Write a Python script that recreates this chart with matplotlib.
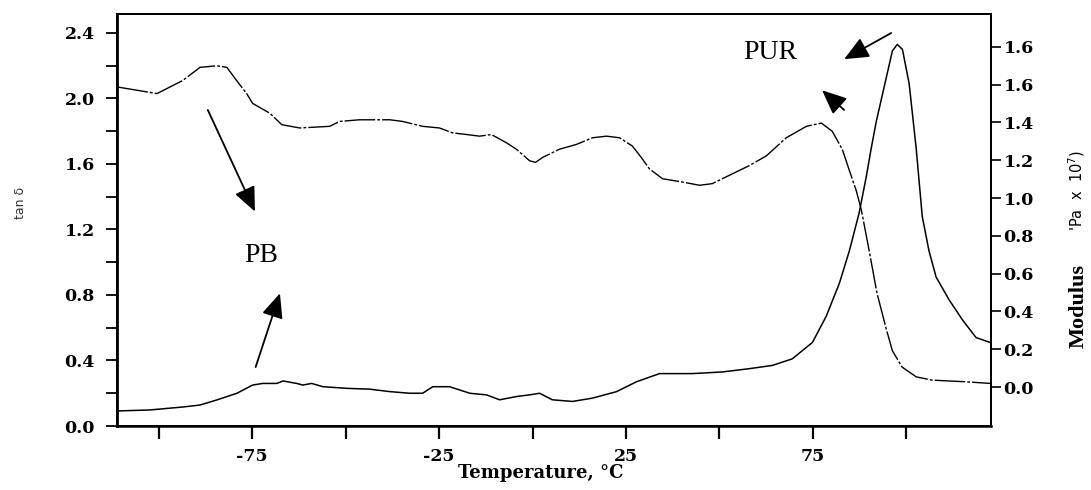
import matplotlib
matplotlib.use('Agg')
import matplotlib.pyplot as plt
import numpy as np

# storage modulus trace (dash-dot), plotted on the tan delta scale
mod_T = [-111, -100.5, -93.6, -89, -84.5, -81.8, -79.2, -76.5, -74.9, -70.3, -67.1, -62.3,
         -54.3, -51.6, -46.3, -38.2, -34.8, -29.4, -24.9, -21.4, -17.6, -14.2, -11, -7,
         -4.3, -0.8, 0.8, 2.7, 7.2, 11.8, 16, 19.8, 23.3, 26.7, 29.1, 31.3, 34.8, 40.1,
         44.7, 48.1, 53.5, 58, 62.6, 67.9, 73.3, 77.3, 80.2, 82.9, 84.8, 86.6, 88, 90.1,
         92.2, 94.7, 96.3, 98.9, 102.7, 107, 116, 122.5]
mod_y = [2.07, 2.03, 2.11, 2.19, 2.20, 2.19, 2.11, 2.03, 1.97, 1.91, 1.84, 1.82,
         1.83, 1.86, 1.87, 1.87, 1.86, 1.83, 1.82, 1.79, 1.78, 1.77, 1.78, 1.73,
         1.69, 1.62, 1.61, 1.64, 1.69, 1.72, 1.76, 1.77, 1.76, 1.71, 1.64, 1.57, 1.51, 1.49,
         1.47, 1.48, 1.54, 1.59, 1.65, 1.76, 1.83, 1.85, 1.80, 1.69, 1.56, 1.44, 1.32, 1.07,
         0.81, 0.59, 0.46, 0.36, 0.30, 0.28, 0.27, 0.26]

# tan delta trace (solid)
tan_T = [-111, -102.4, -93.6, -89, -84.5, -79.1, -74.9, -72.2, -68.4, -66.8, -63.1, -61.5,
         -59.1, -56.1, -49.7, -43.6, -38.2, -32.9, -29.4, -26.7, -22.2, -16.8, -12.3, -8.8,
         -4.3, -0.8, 1.9, 5.3, 10.7, 16, 22.5, 27.8, 34, 42.8, 50.8, 58, 64.2, 69.5, 74.9,
         78.6, 82.1, 84.8, 87.4, 89.3, 90.6, 92, 94.7, 96.3, 97.6, 99, 100.8, 102.7, 104.3,
         106.1, 108, 111.5, 115, 118.7, 122.5]
tan_y = [0.092, 0.098, 0.116, 0.128, 0.159, 0.20, 0.25, 0.26, 0.26, 0.275, 0.26, 0.25,
         0.26, 0.24, 0.23, 0.225, 0.21, 0.20, 0.20, 0.24, 0.24, 0.20, 0.19, 0.16,
         0.18, 0.19, 0.20, 0.16, 0.15, 0.17, 0.21, 0.27, 0.32, 0.32, 0.33, 0.35, 0.37, 0.41, 0.51,
         0.67, 0.87, 1.07, 1.30, 1.52, 1.69, 1.86, 2.13, 2.29, 2.33, 2.30, 2.09, 1.69, 1.28,
         1.07, 0.91, 0.77, 0.65, 0.54, 0.51]

x_ticks = [-100, -75, -50, -25, 0, 25, 50, 75, 100]
x_labels = ['', '-75', '', '-25', '', '25', '', '75', '']
left_ticks = [0.0, 0.4, 0.8, 1.2, 1.6, 2.0, 2.4]
left_minor = [0.2, 0.6, 1.0, 1.4, 1.8, 2.2]
right_ticks = [0.0, 0.2, 0.4, 0.6, 0.8, 1.0, 1.2, 1.4, 1.6, 1.8]
right_labels = ['0.0', '0.2', '0.4', '0.6', '0.8', '1.0', '1.2', '1.4', '1.6', '1.6']

tickfont = dict(family='DejaVu Serif', weight='bold', size=12.5)

fig = plt.figure(figsize=(10.91, 4.90), dpi=100)
ax = fig.add_axes([117/1091, 1-426/490, (991-117)/1091, (426-14)/490])

ax.plot(mod_T, mod_y, color='k', lw=1.0, linestyle=(0, (22, 1.5, 2, 1.5)))
ax.plot(tan_T, tan_y, color='k', lw=1.1)

ax.set_xlim(-111.2, 122.7)
ax.set_ylim(0, 2.516)

ax.set_xticks(x_ticks)
ax.set_xticklabels(x_labels, fontdict=tickfont)
ax.set_yticks(left_ticks)
ax.set_yticklabels(['%.1f' % v for v in left_ticks], fontdict=tickfont)
ax.set_yticks(left_minor, minor=True)
ax.tick_params(axis='x', direction='out', length=9, width=1.6, pad=7)
ax.tick_params(axis='y', which='both', direction='out', length=8, width=1.3, pad=8)

ax2 = ax.twinx()
ax2.set_ylim(-0.206, 1.974)
ax2.set_yticks(right_ticks)
ax2.set_yticklabels(right_labels, fontdict=tickfont)
ax2.tick_params(axis='y', direction='out', length=7, width=1.2, pad=2)

for a in (ax, ax2):
    for s in a.spines.values():
        s.set_linewidth(1.4)
ax.spines['left'].set_linewidth(2.0)
ax.spines['bottom'].set_linewidth(1.8)

fig.text(541/1091, 1-473/490, 'Temperature, \u00b0C', ha='center', va='center',
         family='DejaVu Serif', weight='bold', size=13)

fig.text(20/1091, 1-203/490, 'tan \u03b4', rotation=90, ha='center', va='center',
         family='DejaVu Sans', size=9, color='#333333')
fig.text(1079/1091, 1-306/490, 'Modulus', rotation=90, ha='center', va='center',
         family='Liberation Serif', weight='bold', size=16)
fig.text(1077/1091, 1-190/490, "'Pa  x  10$^7$)", rotation=90, ha='center', va='center',
         family='DejaVu Sans', size=10.5)

ax.text(63.6, 2.28, 'PUR', family='Liberation Serif', size=20, ha='center', va='center')
ax.text(-72.7, 1.04, 'PB', family='Liberation Serif', size=20, ha='center', va='center')

arrow = dict(arrowstyle='-|>,head_length=0.75,head_width=0.33', mutation_scale=20,
             lw=1.3, color='k', shrinkA=0, shrinkB=0)
ax.annotate('', xy=(83.4, 2.24), xytext=(96.0, 2.40), arrowprops=arrow)
ax.annotate('', xy=(77.5, 2.05), xytext=(83.4, 1.93), arrowprops=arrow)
ax.annotate('', xy=(-74.3, 1.31), xytext=(-86.9, 1.93), arrowprops=arrow)
ax.annotate('', xy=(-67.6, 0.81), xytext=(-74.1, 0.36), arrowprops=arrow)

fig.savefig('out.png', dpi=100, facecolor='white')
